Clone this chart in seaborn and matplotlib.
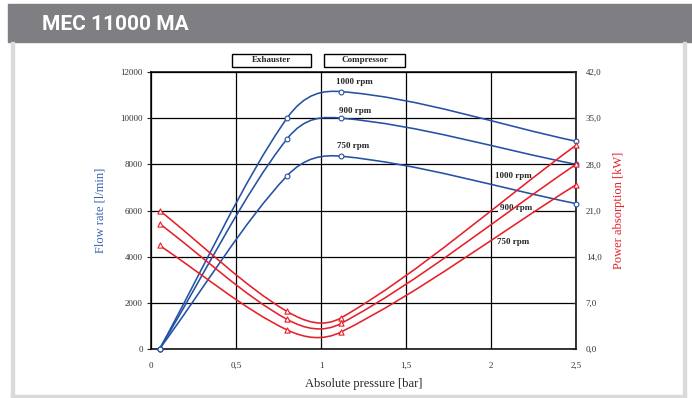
import numpy as np
import pandas as pd
import matplotlib
matplotlib.use("Agg")
import matplotlib.pyplot as plt
from matplotlib.path import Path
from matplotlib.patches import PathPatch, Rectangle
import seaborn as sns

# data
pressure = [0.05, 0.8, 1.12, 2.5]
rpm_labels = ["1000 rpm", "900 rpm", "750 rpm"]
flow_1000 = [0, 10000, 11150, 9000]
flow_900 = [0, 9100, 10000, 8000]
flow_750 = [0, 7500, 8350, 6300]
power_1000 = [21.0, 5.7, 4.75, 30.9]
power_900 = [19.0, 4.5, 3.9, 28.0]
power_750 = [15.7, 2.9, 2.6, 24.9]
x_ticks = [0, 0.5, 1, 1.5, 2, 2.5]
flow_ticks = [0, 2000, 4000, 6000, 8000, 10000, 12000]
power_ticks = [0, 7, 14, 21, 28, 35, 42]

BLUE = "#2451a3"
RED = "#e5202a"
SERIF = ["Liberation Serif", "DejaVu Serif"]

flow = pd.DataFrame({"p": pressure * 3,
                     "v": flow_1000 + flow_900 + flow_750,
                     "rpm": [r for r in rpm_labels for _ in pressure]})
power = pd.DataFrame({"p": pressure * 3,
                      "v": power_1000 + power_900 + power_750,
                      "rpm": [r for r in rpm_labels for _ in pressure]})


def smooth(ax, xs, ys, color):
    # smoothed line like a spreadsheet chart (cubic bezier through the points)
    xs, ys = np.asarray(xs, float), np.asarray(ys, float)
    n = len(xs)
    m = np.empty(n)
    m[0] = (ys[1] - ys[0]) / (xs[1] - xs[0])
    m[-1] = (ys[-1] - ys[-2]) / (xs[-1] - xs[-2])
    for i in range(1, n - 1):
        m[i] = (ys[i + 1] - ys[i - 1]) / (xs[i + 1] - xs[i - 1])
    verts, codes = [(xs[0], ys[0])], [Path.MOVETO]
    for i in range(n - 1):
        h = (xs[i + 1] - xs[i]) / 3
        verts += [(xs[i] + h, ys[i] + m[i] * h),
                  (xs[i + 1] - h, ys[i + 1] - m[i + 1] * h),
                  (xs[i + 1], ys[i + 1])]
        codes += [Path.CURVE4] * 3
    ax.add_patch(PathPatch(Path(verts, codes), fc="none", ec=color, lw=1.15,
                           zorder=3, capstyle="round"))


fig = plt.figure(figsize=(6.92, 3.98), dpi=100)
sns.set_style("white")

# header bar and panel frame
fig.patches.append(Rectangle((8 / 692, 1 - 42 / 398), 1, 38 / 398,
                             transform=fig.transFigure, color="#7f7f83", zorder=0))
fig.text(42 / 692, 1 - 25 / 398, "MEC 11000 MA", color="white", fontsize=15,
         fontweight="bold", family="Roboto", va="center", ha="left")
for x0 in (11 / 692, 683 / 692):
    fig.patches.append(Rectangle((x0, 1 / 398), 3 / 692, 355 / 398,
                                 transform=fig.transFigure, color="#dadada", zorder=0))
fig.patches.append(Rectangle((11 / 692, 1 / 398), 675 / 692, 2 / 398,
                             transform=fig.transFigure, color="#dadada", zorder=0))

ax = fig.add_axes([151 / 692, 1 - 349 / 398, 425 / 692, 277 / 398])
ax.set_xlim(0, 2.5)
ax.set_ylim(0, 12000)
ax.set_xticks(x_ticks)
ax.set_xticklabels(["0", "0,5", "1", "1,5", "2", "2,5"])
ax.set_yticks(flow_ticks)
ax.grid(True, color="black", lw=0.9)
ax.set_axisbelow(True)
for s in ax.spines.values():
    s.set_color("black")
    s.set_linewidth(1.1)
ax.tick_params(axis="y", length=3, width=0.8, direction="out", pad=3,
               labelsize=6.5, labelcolor="#333333")
ax.tick_params(axis="x", length=0, pad=9, labelsize=6.5, labelcolor="#333333")
for lab in ax.get_xticklabels() + ax.get_yticklabels():
    lab.set_family(SERIF)

for vals in (flow_1000, flow_900, flow_750):
    smooth(ax, pressure, vals, BLUE)
sns.scatterplot(data=flow, x="p", y="v", ax=ax, marker="o", s=12,
                facecolor="white", edgecolor=BLUE, linewidth=0.8, zorder=4,
                legend=False, clip_on=False)
ax.set_xlabel("Absolute pressure [bar]", family=SERIF, fontsize=9, labelpad=6)
ax.set_ylabel("Flow rate [l/min]", family=SERIF, fontsize=9, color="#3564b0",
              labelpad=10)

ax2 = ax.twinx()
ax2.set_ylim(0, 42)
ax2.set_yticks(power_ticks)
ax2.set_yticklabels([f"{v:.1f}".replace(".", ",") for v in power_ticks])
ax2.tick_params(axis="y", length=3, width=0.8, direction="in", pad=7,
                labelsize=6.5, labelcolor="#333333")
for lab in ax2.get_yticklabels():
    lab.set_family(SERIF)
for s in ax2.spines.values():
    s.set_visible(False)
for vals in (power_1000, power_900, power_750):
    smooth(ax2, pressure, vals, RED)
sns.scatterplot(data=power, x="p", y="v", ax=ax2, marker="^", s=14,
                facecolor="white", edgecolor=RED, linewidth=0.8, zorder=4,
                legend=False, clip_on=False)
ax2.set_ylabel("Power absorption [kW]", family=SERIF, fontsize=9, color=RED,
               labelpad=8)

# rpm labels
lab_kw = dict(family=SERIF, fontsize=6.5, fontweight="bold", ha="center",
              va="center", zorder=2)
for txt, (x, y) in zip(rpm_labels, [(1.194, 11570), (1.20, 10310), (1.19, 8810)]):
    ax.text(x, y, txt, **lab_kw)
for txt, (x, y) in zip(rpm_labels, [(2.13, 7500), (2.145, 6100), (2.13, 4640)]):
    ax.text(x, y, txt, bbox=dict(fc="white", ec="none", pad=0.8), **lab_kw)

# section boxes above the plot
for txt, x0, x1 in [("Exhauster", 232, 311), ("Compressor", 324, 405)]:
    fig.patches.append(Rectangle((x0 / 692, 1 - 67 / 398), (x1 - x0) / 692, 13 / 398,
                                 transform=fig.transFigure, fc="white", ec="black",
                                 lw=1.0))
    fig.text((x0 + x1) / 2 / 692, 1 - 60.5 / 398, txt, family=SERIF, fontsize=6.5,
             fontweight="bold", ha="center", va="center")

fig.savefig("out.png", dpi=100)
